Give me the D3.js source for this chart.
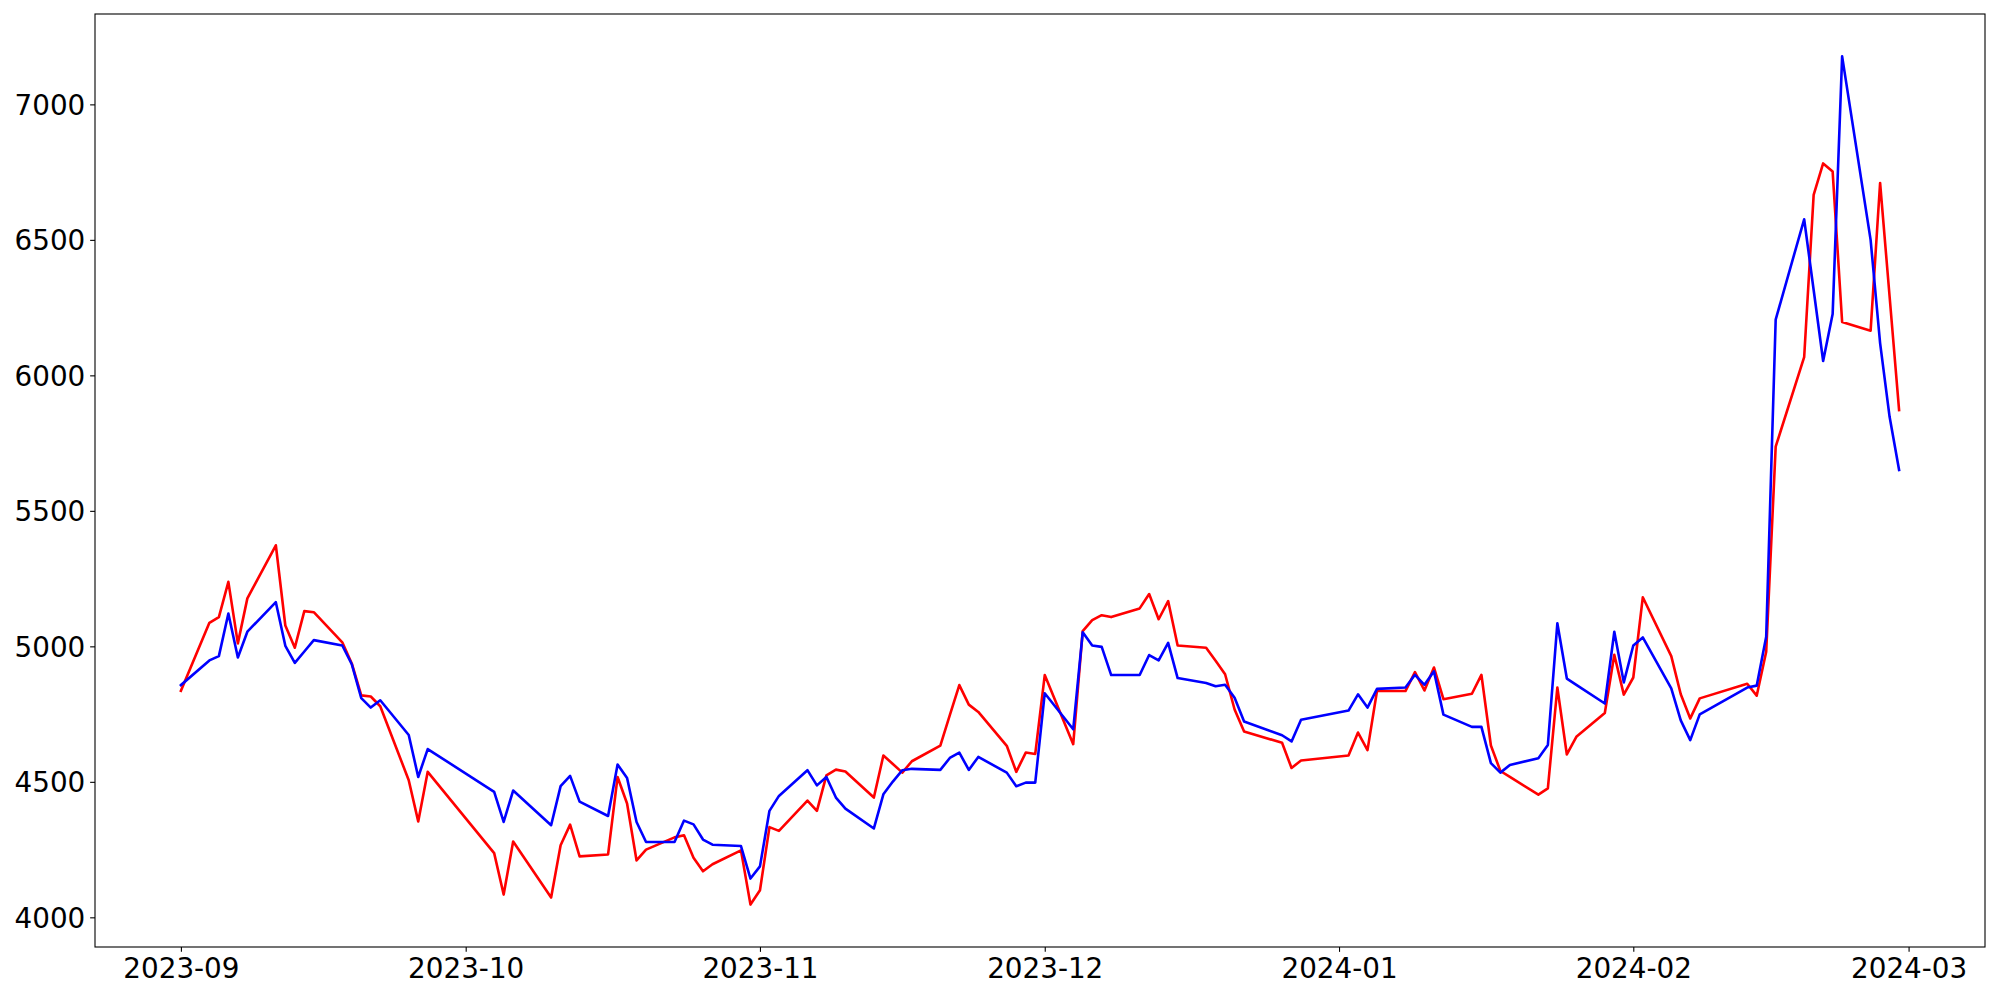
<!DOCTYPE html>
<html>
<head>
<meta charset="utf-8">
<script src="https://cdn.jsdelivr.net/npm/d3@7"></script>
<style>
  html, body { margin: 0; padding: 0; background: #fff; }
  svg { display: block; }
  text { font-family: "DejaVu Sans", sans-serif; }
</style>
</head>
<body>
<svg id="chart" width="2000" height="1000"></svg>
<script>
// ---- data ----
const dates = [
  "2023-09-01","2023-09-04","2023-09-05","2023-09-06","2023-09-07","2023-09-08",
  "2023-09-11","2023-09-12","2023-09-13","2023-09-14","2023-09-15",
  "2023-09-18","2023-09-19","2023-09-20","2023-09-21","2023-09-22",
  "2023-09-25","2023-09-26","2023-09-27",
  "2023-10-04","2023-10-05","2023-10-06",
  "2023-10-10","2023-10-11","2023-10-12","2023-10-13",
  "2023-10-16","2023-10-17","2023-10-18","2023-10-19","2023-10-20",
  "2023-10-23","2023-10-24","2023-10-25","2023-10-26","2023-10-27",
  "2023-10-30","2023-10-31",
  "2023-11-01","2023-11-02","2023-11-03",
  "2023-11-06","2023-11-07","2023-11-08","2023-11-09","2023-11-10",
  "2023-11-13","2023-11-14","2023-11-15","2023-11-16","2023-11-17",
  "2023-11-20","2023-11-21","2023-11-22","2023-11-23","2023-11-24",
  "2023-11-27","2023-11-28","2023-11-29","2023-11-30",
  "2023-12-01",
  "2023-12-04","2023-12-05","2023-12-06","2023-12-07","2023-12-08",
  "2023-12-11","2023-12-12","2023-12-13","2023-12-14","2023-12-15",
  "2023-12-18","2023-12-19","2023-12-20","2023-12-21","2023-12-22",
  "2023-12-26","2023-12-27","2023-12-28",
  "2024-01-02","2024-01-03","2024-01-04","2024-01-05",
  "2024-01-08","2024-01-09","2024-01-10","2024-01-11","2024-01-12",
  "2024-01-15","2024-01-16","2024-01-17","2024-01-18","2024-01-19",
  "2024-01-22","2024-01-23","2024-01-24","2024-01-25","2024-01-26",
  "2024-01-29","2024-01-30","2024-01-31",
  "2024-02-01","2024-02-02",
  "2024-02-05","2024-02-06","2024-02-07","2024-02-08",
  "2024-02-13","2024-02-14","2024-02-15","2024-02-16",
  "2024-02-19","2024-02-20","2024-02-21","2024-02-22","2024-02-23",
  "2024-02-26","2024-02-27","2024-02-28","2024-02-29"
];

const redValues = [
  4836, 5087, 5108, 5238, 5011, 5177, 5373, 5077, 4995, 5130, 5126, 5015, 4937, 4819, 4815, 4779, 4506, 4354, 4537,
  4237, 4084, 4280, 4073, 4266, 4342, 4225, 4232, 4518, 4420, 4210, 4250, 4295, 4303, 4220, 4170, 4196, 4247, 4047,
  4100, 4333, 4319, 4431, 4393, 4524, 4545, 4538, 4442, 4597, 4566, 4534, 4576, 4634, 4746, 4857, 4785, 4758, 4633, 4537, 4608, 4603,
  4894, 4639, 5056, 5097, 5115, 5108, 5140, 5193, 5100, 5167, 5003, 4995, 4947, 4897, 4767, 4686, 4644, 4551, 4579,
  4597, 4682, 4617, 4835, 4835, 4905, 4837, 4922, 4805, 4825, 4895, 4634, 4540, 4518, 4453, 4476, 4848, 4601, 4666, 4754, 4969, 4822,
  4885, 5181, 4964, 4823, 4734, 4808, 4862, 4818, 4980, 5737, 6067, 6666, 6782, 6752, 6197, 6165, 6710, 6291, 5872
];

const blueValues = [
  4857, 4948, 4964, 5121, 4959, 5054, 5163, 5002, 4939, 4981, 5023, 5003, 4934, 4809, 4774, 4801, 4673, 4518, 4621,
  4463, 4352, 4468, 4340, 4484, 4522, 4427, 4374, 4564, 4514, 4352, 4278, 4278, 4357, 4343, 4287, 4268, 4263, 4143,
  4188, 4393, 4448, 4543, 4487, 4518, 4442, 4401, 4328, 4454, 4501, 4543, 4548, 4544, 4588, 4608, 4544, 4592, 4534, 4484, 4497, 4497,
  4827, 4694, 5052, 5003, 4998, 4894, 4894, 4968, 4948, 5013, 4883, 4865, 4853, 4858, 4810, 4723, 4672, 4649, 4729,
  4763, 4823, 4774, 4843, 4848, 4895, 4858, 4908, 4748, 4703, 4703, 4569, 4534, 4562, 4587, 4636, 5085, 4881, 4858, 4789, 5054, 4867,
  5003, 5033, 4845, 4727, 4654, 4749, 4848, 4855, 5035, 6206, 6576, 6315, 6053, 6226, 7177, 6500, 6119, 5847, 5651
];

const yTickValues = [4000, 4500, 5000, 5500, 6000, 6500, 7000];
const xTickDates = ["2023-09-01","2023-10-01","2023-11-01","2023-12-01","2024-01-01","2024-02-01","2024-03-01"];

// ---- layout ----
const W = 2000, H = 1000;
const plot = { left: 95, top: 14, right: 1985, bottom: 947 };
const fontSize = 27.8;
const tickLen = 4.86, tickPad = 4.86;

const parse = d3.utcParse("%Y-%m-%d");
const xDates = dates.map(parse);

const xExt = d3.extent(xDates);
const xSpan = xExt[1] - xExt[0];
const x = d3.scaleUtc()
  .domain([new Date(+xExt[0] - 0.05 * xSpan), new Date(+xExt[1] + 0.05 * xSpan)])
  .range([plot.left, plot.right]);

const allVals = redValues.concat(blueValues);
const yMin = d3.min(allVals), yMax = d3.max(allVals);
const ySpan = yMax - yMin;
const y = d3.scaleLinear()
  .domain([yMin - 0.05 * ySpan, yMax + 0.05 * ySpan])
  .range([plot.bottom, plot.top]);

const svg = d3.select("#chart");

svg.append("defs").append("clipPath").attr("id", "clip")
  .append("rect")
  .attr("x", plot.left).attr("y", plot.top)
  .attr("width", plot.right - plot.left).attr("height", plot.bottom - plot.top);

const line = d3.line()
  .x((d, i) => x(xDates[i]))
  .y(d => y(d));

const g = svg.append("g").attr("clip-path", "url(#clip)");
g.append("path").datum(redValues)
  .attr("d", line)
  .attr("fill", "none").attr("stroke", "#ff0000")
  .attr("stroke-width", 2.6).attr("stroke-linejoin", "round").attr("stroke-linecap", "square");
g.append("path").datum(blueValues)
  .attr("d", line)
  .attr("fill", "none").attr("stroke", "#0000ff")
  .attr("stroke-width", 2.6).attr("stroke-linejoin", "round").attr("stroke-linecap", "square");

const fmt = d3.utcFormat("%Y-%m");
const xAxis = d3.axisBottom(x)
  .tickValues(xTickDates.map(parse))
  .tickFormat(fmt)
  .tickSize(tickLen).tickPadding(tickPad);
const yAxis = d3.axisLeft(y)
  .tickValues(yTickValues)
  .tickFormat(d3.format("d"))
  .tickSize(tickLen).tickPadding(tickPad);

const gx = svg.append("g").attr("transform", `translate(0,${plot.bottom})`).call(xAxis);
const gy = svg.append("g").attr("transform", `translate(${plot.left},0)`).call(yAxis);

[gx, gy].forEach(a => {
  a.select(".domain").remove();
  a.selectAll(".tick line").attr("stroke", "#000").attr("stroke-width", 1.1);
  a.selectAll(".tick text")
    .attr("fill", "#000")
    .style("font-family", '"DejaVu Sans", sans-serif')
    .style("font-size", fontSize + "px");
});
gx.selectAll(".tick text").attr("dy", "0.76em");
gy.selectAll(".tick text").attr("dy", "0.36em");

svg.append("rect")
  .attr("x", plot.left).attr("y", plot.top)
  .attr("width", plot.right - plot.left).attr("height", plot.bottom - plot.top)
  .attr("fill", "none").attr("stroke", "#000").attr("stroke-width", 1.1);
</script>
</body>
</html>
